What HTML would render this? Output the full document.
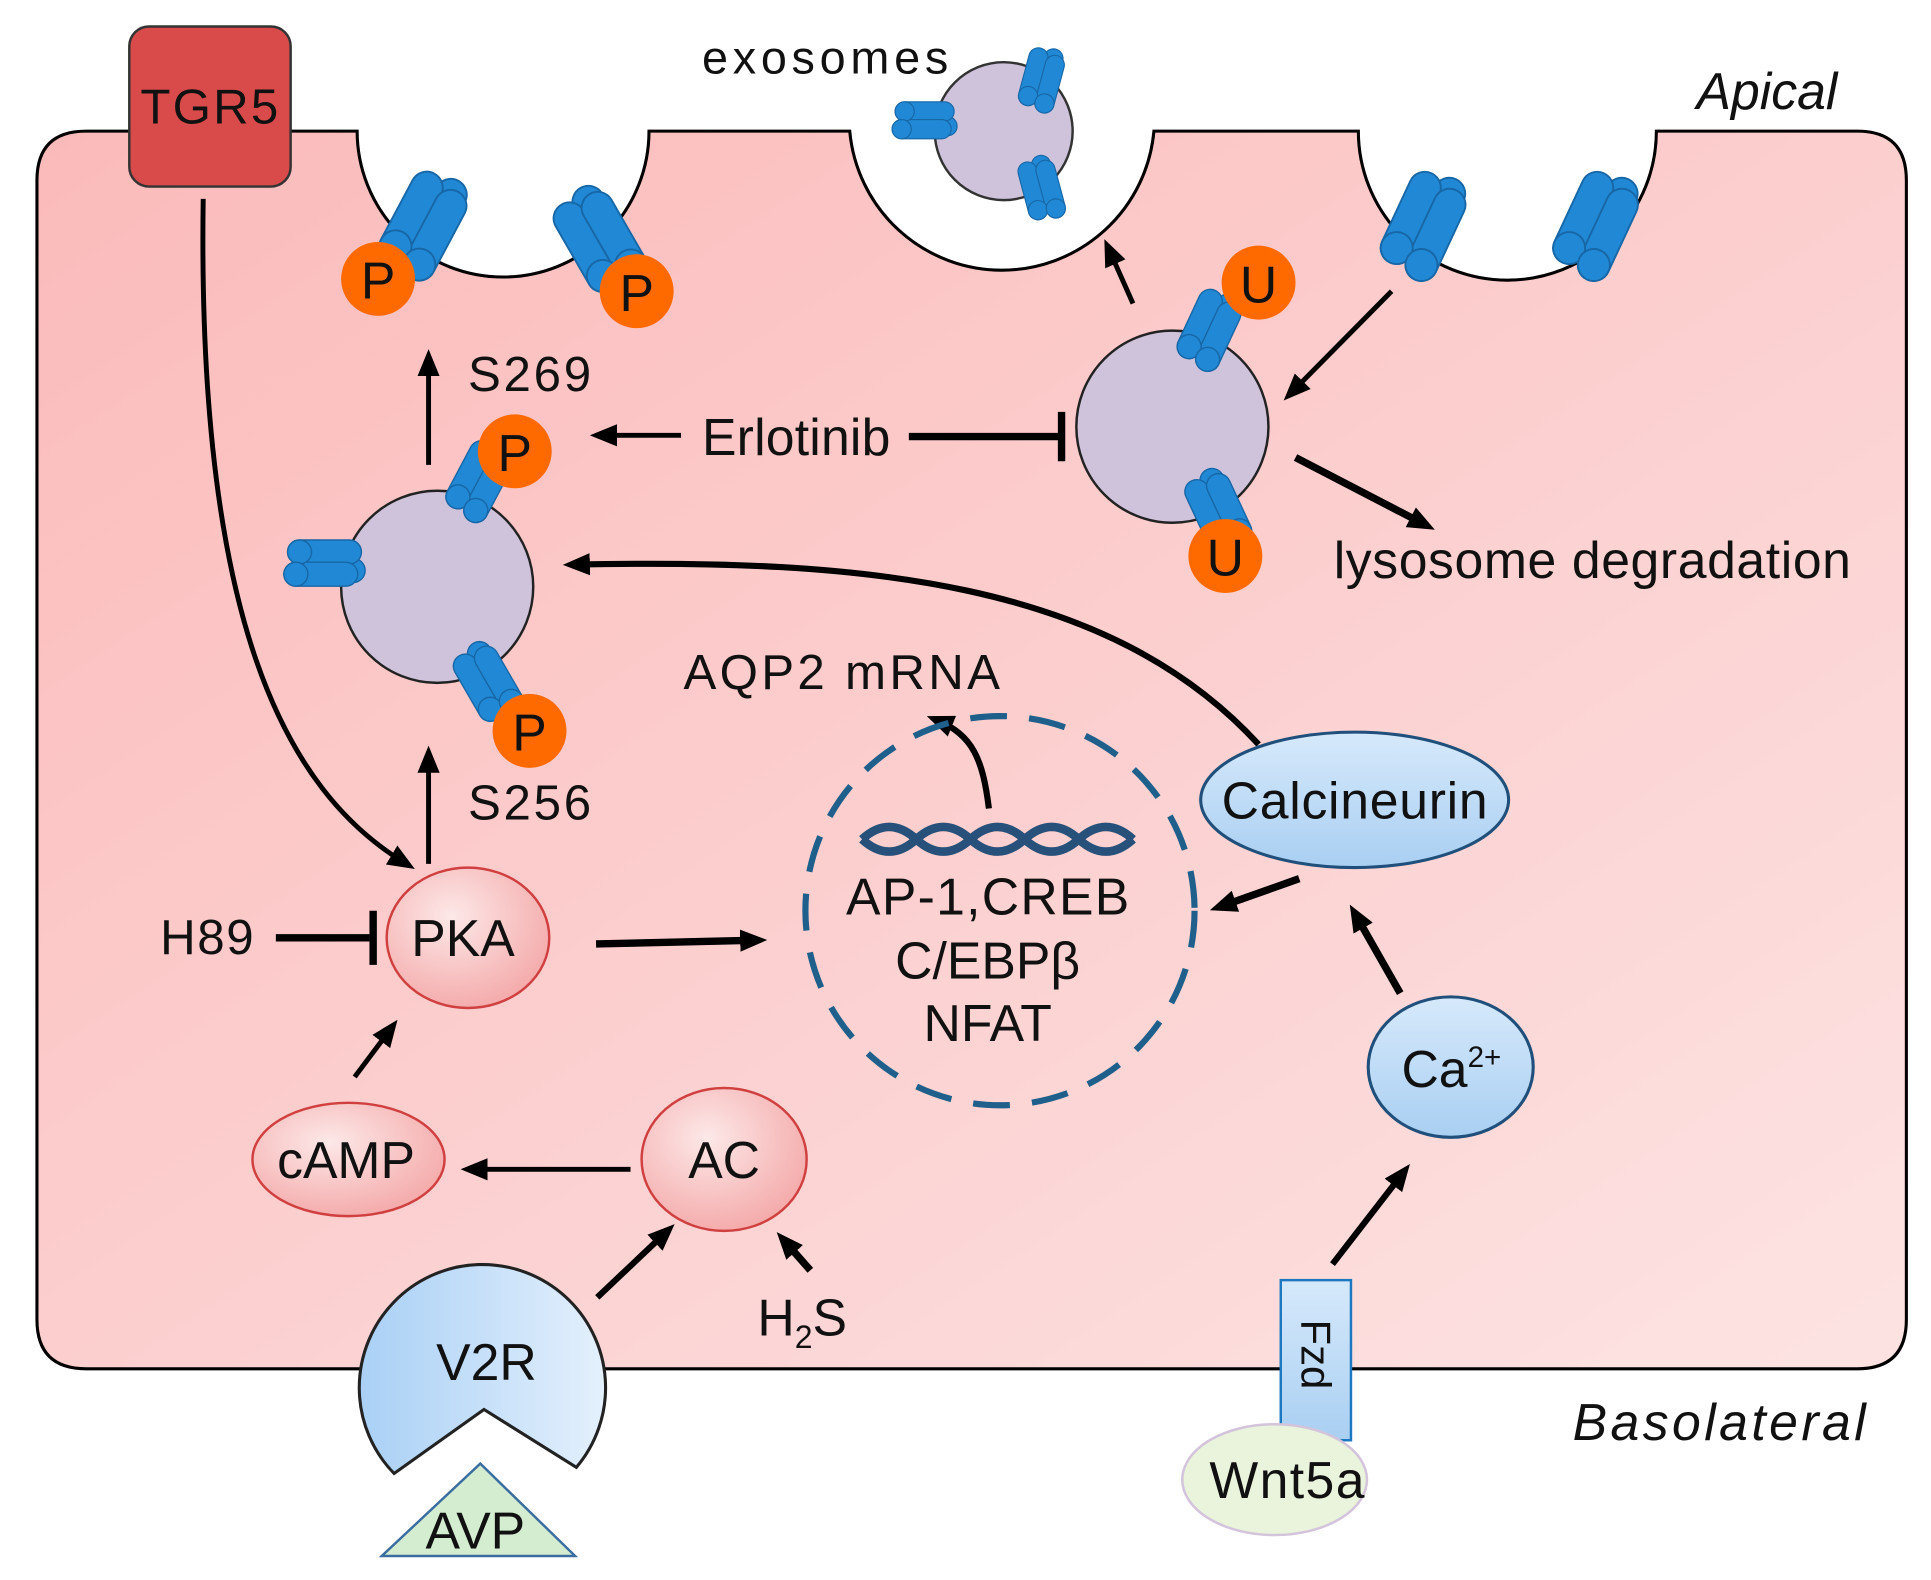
<!DOCTYPE html>
<html><head><meta charset="utf-8"><style>
html,body{margin:0;padding:0;background:#fff;}
svg{display:block;}
text{font-family:"Liberation Sans",sans-serif;fill:#111;}
</style></head><body>
<svg width="1931" height="1580" viewBox="0 0 1568 1280" xmlns="http://www.w3.org/2000/svg">
<defs>
<linearGradient id="cell" x1="0" y1="0" x2="1" y2="1">
<stop offset="0" stop-color="#fbbaba"/><stop offset="1" stop-color="#fde3e3"/></linearGradient>
<radialGradient id="pink" cx="0.4" cy="0.35" r="0.7">
<stop offset="0" stop-color="#fde8e8"/><stop offset="1" stop-color="#f4a8a8"/></radialGradient>
<linearGradient id="blue" x1="0" y1="0" x2="0" y2="1">
<stop offset="0" stop-color="#d6e9fb"/><stop offset="1" stop-color="#a9cff2"/></linearGradient>
<linearGradient id="v2r" x1="0" y1="0" x2="1" y2="0">
<stop offset="0" stop-color="#a9d0f5"/><stop offset="1" stop-color="#e4f0fd"/></linearGradient>
<marker id="ah2" markerWidth="22" markerHeight="20" refX="14" refY="10" orient="auto" markerUnits="userSpaceOnUse">
<path d="M0,1 L22,10 L0,19 z" fill="#000"/></marker>
<g id="ch">
<rect x="-8" y="-42" width="26" height="80" rx="13" fill="#2088d4" stroke="#1766a6" stroke-width="1.5"/>
<rect x="-28" y="-38" width="26" height="80" rx="13" fill="#2088d4" stroke="#1766a6" stroke-width="1.5"/>
<rect x="-4" y="-34" width="26" height="80" rx="13" fill="#2088d4" stroke="#1766a6" stroke-width="1.5"/>
<circle cx="-15" cy="29" r="13" fill="#2088d4" stroke="#1766a6" stroke-width="1.5"/>
<circle cx="9" cy="33" r="13" fill="#2088d4" stroke="#1766a6" stroke-width="1.5"/>
</g>
</defs>

<path d="M70,105 L290,105 A118,118 0 0 0 527,105 L690,105 A124,124 0 0 0 937,105 L1103,105 A121,121 0 0 0 1345,105 L1508,105 Q1548,105 1548,145 L1548,1070 Q1548,1110 1508,1110 L70,1110 Q30,1110 30,1070 L30,145 Q30,105 70,105 Z" fill="url(#cell)" stroke="#000" stroke-width="2.5"/>

<rect x="105" y="20" width="131" height="130" rx="16" fill="#d94a4a" stroke="#333" stroke-width="2"/>
<text x="170" y="99" font-size="40" text-anchor="middle" textLength="112">TGR5</text>

<text x="570" y="58" font-size="38" textLength="200">exosomes</text>
<text x="1492" y="87" font-size="42" font-style="italic" text-anchor="end">Apical</text>
<text x="1515" y="1168" font-size="42" font-style="italic" text-anchor="end" textLength="238">Basolateral</text>

<circle cx="815" cy="105" r="56" fill="#cfc3dc" stroke="#333" stroke-width="2"/>
<use href="#ch" transform="translate(848,62) rotate(15) scale(0.6)"/>
<use href="#ch" transform="translate(752,98) rotate(90) scale(0.6)"/>
<use href="#ch" transform="translate(847,150) rotate(-15) scale(0.6)"/>

<use href="#ch" transform="translate(348,180) rotate(28)"/>
<use href="#ch" transform="translate(488,190) rotate(-30)"/>
<use href="#ch" transform="translate(1160,180) rotate(25)"/>
<use href="#ch" transform="translate(1300,180) rotate(25)"/>
<circle cx="307" cy="225" r="30" fill="#ff6a00"/><text x="307" y="241" font-size="42" text-anchor="middle">P</text>
<circle cx="517" cy="235" r="30" fill="#ff6a00"/><text x="517" y="251" font-size="42" text-anchor="middle">P</text>

<circle cx="355" cy="475" r="78" fill="#cfc3dc" stroke="#222" stroke-width="2"/>
<use href="#ch" transform="translate(392,388) rotate(28) scale(0.75)"/>
<use href="#ch" transform="translate(265,458) rotate(90) scale(0.75)"/>
<use href="#ch" transform="translate(397,550) rotate(-30) scale(0.75)"/>
<circle cx="418" cy="365" r="30" fill="#ff6a00"/><text x="418" y="381" font-size="42" text-anchor="middle">P</text>
<circle cx="430" cy="592" r="30" fill="#ff6a00"/><text x="430" y="608" font-size="42" text-anchor="middle">P</text>

<circle cx="952" cy="345" r="78" fill="#cfc3dc" stroke="#222" stroke-width="2"/>
<use href="#ch" transform="translate(985,265) rotate(25) scale(0.75)"/>
<use href="#ch" transform="translate(990,410) rotate(-25) scale(0.75)"/>
<circle cx="1022" cy="228" r="30" fill="#ff6a00"/><text x="1022" y="244" font-size="42" text-anchor="middle">U</text>
<circle cx="995" cy="450" r="30" fill="#ff6a00"/><text x="995" y="466" font-size="42" text-anchor="middle">U</text>

<text x="380" y="316" font-size="40" textLength="100">S269</text>
<text x="380" y="664" font-size="40" textLength="100">S256</text>
<text x="570" y="368" font-size="42" textLength="153">Erlotinib</text>
<text x="1083" y="468" font-size="42" textLength="420">lysosome degradation</text>
<text x="555" y="558" font-size="40" textLength="257">AQP2 mRNA</text>
<text x="130" y="773" font-size="40" textLength="76">H89</text>

<g stroke="#000" stroke-width="4" fill="none">
<path d="M348,376 L348,290" marker-end="url(#ah2)"/>
<path d="M348,700 L348,612" marker-end="url(#ah2)"/>
<path d="M553,352 L487,352" marker-end="url(#ah2)"/>
<path d="M738,353 L862,353" stroke-width="6"/>
<path d="M862,333 L862,373" stroke-width="6"/>
<path d="M920,245 L900,200" marker-end="url(#ah2)"/>
<path d="M1130,235 L1048,318" marker-end="url(#ah2)"/>
<path d="M1052,370 L1158,425" stroke-width="6" marker-end="url(#ah2)"/>
<path d="M1022,603 C900,470 700,452 465,457" stroke-width="5" marker-end="url(#ah2)"/>
<path d="M165,160 C160,500 230,640 330,700" stroke-width="4" marker-end="url(#ah2)"/>
<path d="M224,760 L300,760" stroke-width="6"/>
<path d="M303,738 L303,782" stroke-width="6"/>
<path d="M484,765 L615,762" stroke-width="6" marker-end="url(#ah2)"/>
<path d="M803,655 C798,615 790,595 760,583" stroke-width="5" marker-end="url(#ah2)"/>
<path d="M1055,712 L990,735" stroke-width="6" marker-end="url(#ah2)"/>
<path d="M1137,805 L1100,740" stroke-width="6" marker-end="url(#ah2)"/>
<path d="M288,873 L318,833" marker-end="url(#ah2)"/>
<path d="M512,948 L382,948" marker-end="url(#ah2)"/>
<path d="M485,1052 L542,998" stroke-width="5" marker-end="url(#ah2)"/>
<path d="M658,1030 L636,1005" stroke-width="6" marker-end="url(#ah2)"/>
<path d="M1082,1025 L1140,950" stroke-width="5" marker-end="url(#ah2)"/>
</g>

<circle cx="812" cy="738" r="158" fill="none" stroke="#1f5f8b" stroke-width="5" stroke-dasharray="30 18"/>
<path d="M700,680 Q722,700 744,680 Q766,660 788,680 Q810,700 832,680 Q854,660 876,680 Q898,700 920,680" stroke="#27507a" stroke-width="7" fill="none"/>
<path d="M700,680 Q722,660 744,680 Q766,700 788,680 Q810,660 832,680 Q854,700 876,680 Q898,660 920,680" stroke="#27507a" stroke-width="7" fill="none"/>
<text x="802" y="741" font-size="42" text-anchor="middle" textLength="230">AP-1,CREB</text>
<text x="802" y="793" font-size="42" text-anchor="middle">C/EBPβ</text>
<text x="802" y="844" font-size="42" text-anchor="middle">NFAT</text>

<ellipse cx="1100" cy="648" rx="125" ry="55" fill="url(#blue)" stroke="#1f4f7a" stroke-width="2.5"/>
<text x="1100" y="663" font-size="42" text-anchor="middle" textLength="216">Calcineurin</text>
<ellipse cx="1178" cy="865" rx="67" ry="57" fill="url(#blue)" stroke="#1f4f7a" stroke-width="2.5"/>
<text x="1138" y="881" font-size="42">Ca<tspan font-size="24" dy="-16">2+</tspan></text>

<ellipse cx="380" cy="760" rx="66" ry="57" fill="url(#pink)" stroke="#d04040" stroke-width="2"/>
<text x="376" y="775" font-size="42" text-anchor="middle">PKA</text>
<ellipse cx="283" cy="940" rx="78" ry="46" fill="url(#pink)" stroke="#d04040" stroke-width="2"/>
<text x="281" y="955" font-size="42" text-anchor="middle" textLength="112">cAMP</text>
<ellipse cx="588" cy="940" rx="67" ry="58" fill="url(#pink)" stroke="#d04040" stroke-width="2"/>
<text x="588" y="955" font-size="42" text-anchor="middle">AC</text>
<text x="615" y="1083" font-size="42">H<tspan font-size="26" dy="10">2</tspan><tspan dy="-10">S</tspan></text>

<path d="M320,1195 A100,100 0 1 1 468,1190 L393,1143 Z" fill="url(#v2r)" stroke="#222" stroke-width="2.5"/>
<text x="395" y="1119" font-size="42" text-anchor="middle">V2R</text>
<path d="M310,1262 L390,1187 L467,1262 Z" fill="#d4ecd0" stroke="#3a6ea0" stroke-width="2"/>
<text x="386" y="1256" font-size="42" text-anchor="middle">AVP</text>

<rect x="1040" y="1038" width="57" height="130" fill="url(#blue)" stroke="#1e78c0" stroke-width="2"/>
<text transform="translate(1057,1070) rotate(90)" font-size="34">Fzd</text>
<ellipse cx="1035" cy="1200" rx="75" ry="45" fill="#eaf3dc" stroke="#d3c4dc" stroke-width="2"/>
<text x="1045" y="1215" font-size="42" text-anchor="middle" textLength="126">Wnt5a</text>
</svg>
</body></html>
